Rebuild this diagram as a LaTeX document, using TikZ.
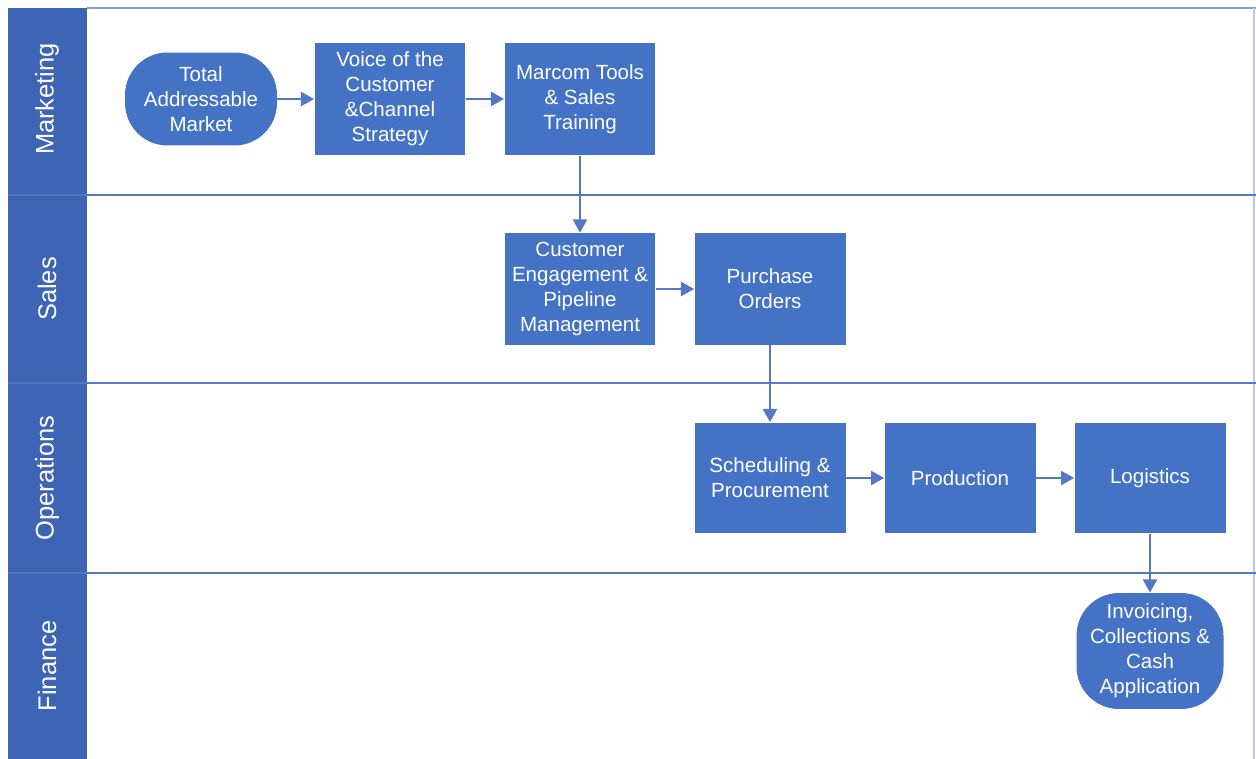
\documentclass[tikz,border=0pt]{standalone}
\usepackage{fontspec}
\setmainfont{Liberation Sans}
\usetikzlibrary{arrows.meta}
\definecolor{boxblue}{RGB}{68,114,196}
\definecolor{laneblue}{RGB}{62,100,182}
\definecolor{lineblue}{RGB}{84,120,198}
\begin{document}
\begin{tikzpicture}[x=0.02cm,y=-0.02cm,>={Triangle[length=7.5pt,width=8pt]},
procbox/.style={fill=boxblue,text=white,minimum width=3.02cm,minimum height=2.26cm,align=center,inner sep=2pt,font=\fontsize{11.7}{14.2}\selectfont},
endbox/.style={procbox,rounded corners=0.85cm},
lanelabel/.style={text=white,rotate=90,font=\fontsize{14.5}{17}\selectfont},
flow/.style={->,lineblue,line width=1.2pt}]
\useasboundingbox (0,0) rectangle (1256,759);
\fill[laneblue](8,8) rectangle (87,759);
\draw[lineblue!70,line width=1pt](87,8)--(1256,8);
\draw[lineblue!40,line width=0.8pt](1254,8)--(1254,759);
\draw[lineblue,line width=1.2pt](8,195)--(1256,195)
(8,383)--(1256,383)
(8,573)--(1256,573);
\node[lanelabel](mkt) at (47,99){Marketing};
\node[lanelabel](sls) at (47,289){Sales};
\node[lanelabel](ops) at (47,478){Operations};
\node[lanelabel](fin) at (47,666){Finance};
\node[endbox,minimum width=3.04cm,minimum height=1.86cm](tam) at (201,99){Total\\Addressable\\Market};
\node[procbox](voc) at (390,99){Voice of the\\Customer\\\&Channel\\Strategy};
\node[procbox](marcom) at (580,99){Marcom Tools\\\& Sales\\Training};
\node[procbox,minimum height=2.24cm](engage) at (580,289){Customer\\Engagement \&\\Pipeline\\Management};
\node[procbox,minimum height=2.24cm](orders) at (770,289){Purchase\\Orders};
\node[procbox,minimum height=2.22cm](sched) at (770,478){Scheduling \&\\Procurement};
\node[procbox,minimum height=2.22cm](prod) at (960,478){Production};
\node[procbox,minimum height=2.22cm](logis) at (1150,478){Logistics};
\node[endbox,minimum width=2.94cm,minimum height=2.32cm](inv) at (1150,651){Invoicing,\\Collections \&\\Cash\\Application};
\draw[flow](tam)--(voc);
\draw[flow](voc)--(marcom);
\draw[flow](marcom)--(engage);
\draw[flow](engage)--(orders);
\draw[flow](orders)--(sched);
\draw[flow](sched)--(prod);
\draw[flow](prod)--(logis);
\draw[flow](logis)--(inv);
\end{tikzpicture}
\end{document}
